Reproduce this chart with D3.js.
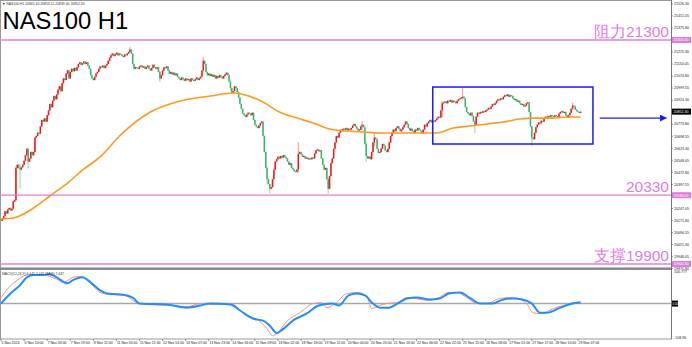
<!DOCTYPE html>
<html>
<head>
<meta charset="utf-8">
<script src="https://cdn.jsdelivr.net/npm/d3@7"></script>
<style>
body { margin: 0; background: #fff; }
svg { display: block; font-family: "Liberation Sans", Arial, sans-serif; }
</style>
</head>
<body>
<svg id="chart" width="692" height="347"></svg>
<script>
// NAS100 H1, 5 Nov - 29 Nov 2024 (closes)
const firstOpen = 20180;
const closes = [
  20170, 20185, 20200, 20230, 20215, 20240, 20250, 20235, 20245, 20290, 20300, 20500,
  20520, 20500, 20490, 20505, 20520, 20545, 20580,
  20620, 20540, 20560, 20600, 20580,
  20600, 20690, 20700, 20720, 20715, 20760, 20800, 20790, 20810, 20790,
  20830, 20860, 20900, 20880, 20920, 20950, 20930, 20960, 20990, 21010, 20980, 21030, 21060, 21050, 21090, 21110,
  21060, 21100, 21120, 21105, 21125, 21110, 21130,
  21150, 21160, 21145, 21155, 21165, 21150, 21160, 21140, 21120,
  21080, 21060, 21050, 21070, 21090, 21100,
  21120, 21135, 21130, 21140, 21125, 21140, 21150,
  21170, 21190, 21205, 21215, 21200, 21210, 21220, 21205, 21215, 21210,
  21200, 21195, 21210, 21205, 21215,
  21225, 21240, 21215,
  21150, 21120, 21130, 21125,
  21120, 21135, 21140, 21128, 21135, 21120, 21130,
  21140, 21120, 21110, 21125, 21145, 21130, 21120,
  21130, 21100, 21060, 21080, 21110, 21130, 21125, 21135,
  21110, 21090, 21100, 21085, 21095, 21080, 21090, 21070,
  21060, 21050, 21065, 21055, 21045, 21060, 21050, 21055, 21040, 21060, 21050, 21045, 21055, 21065, 21050, 21060, 21070,
  21110, 21170, 21150, 21100, 21080,
  21090, 21075, 21085, 21070, 21080, 21060, 21075, 21065, 21080, 21070, 21060, 21075, 21085, 21095,
  21080, 21040, 21000, 20970, 20980, 21010, 21000, 20975,
  20940, 20900, 20870, 20840, 20830, 20820,
  20835, 20845, 20840, 20830, 20845,
  20800, 20770, 20760, 20750, 20765,
  20780, 20790,
  20700, 20600, 20500, 20430,
  20400, 20370, 20380,
  20430, 20490, 20540,
  20555, 20570, 20560, 20575, 20565, 20580, 20570, 20560,
  20540, 20520, 20530,
  20500, 20490, 20480, 20475, 20490,
  20590, 20600,
  20585, 20570, 20575, 20560, 20565, 20555, 20560,
  20555, 20565, 20560,
  20590, 20610, 20615, 20605, 20610,
  20560, 20520, 20490, 20500,
  20430, 20370,
  20450, 20530,
  20560, 20620, 20660, 20700, 20690,
  20720, 20740, 20730, 20745,
  20740, 20750, 20735, 20745, 20740, 20750,
  20765, 20775, 20760,
  20745, 20735, 20740,
  20760, 20770, 20755,
  20650, 20575,
  20560, 20570, 20555,
  20600, 20660, 20690, 20680,
  20620, 20595,
  20600, 20620, 20650, 20640, 20610, 20600, 20620, 20660, 20700, 20720, 20740, 20730, 20750, 20760, 20745,
  20730, 20740, 20755, 20770, 20790, 20775, 20750, 20735, 20745, 20730, 20720, 20740, 20735, 20750, 20740,
  20730, 20715, 20740,
  20770, 20760,
  20780, 20790, 20800, 20785, 20795, 20790, 20800,
  20810, 20820, 20815,
  20860, 20905,
  20910, 20915, 20905, 20920, 20915, 20925, 20910, 20920, 20915, 20905, 20920, 20930,
  20935, 20940, 20945, 20935,
  20880, 20850,
  20840, 20830, 20845, 20825,
  20790, 20770,
  20820, 20845, 20840, 20850,
  20845, 20855, 20850, 20860,
  20865, 20875, 20870,
  20885, 20900, 20895, 20905,
  20920, 20930, 20925, 20935, 20930,
  20945, 20955, 20950, 20960, 20945, 20955, 20950,
  20935, 20925, 20930, 20915, 20920,
  20905, 20895, 20900, 20885, 20890,
  20905, 20910,
  20850, 20760, 20690, 20680,
  20720, 20755,
  20770, 20785, 20780, 20795, 20790,
  20810, 20820, 20815, 20825, 20820, 20830,
  20825, 20820, 20830, 20825, 20820,
  20840, 20850, 20855, 20845, 20850,
  20830, 20815,
  20830, 20845,
  20870, 20890, 20885,
  20865, 20855,
  20850, 20845, 20852
];
// notable wicks: [bar, high, low]
const wicks = [
  [11, 20510, 20290], [14, 20525, 20375], [20, 20625, 20500], [95, 21252, 21225],
  [117, 21105, 21040], [149, 21190, 21105], [169, 21045, 20985], [196, 20505, 20400],
  [198, 20400, 20345], [201, 20500, 20470], [219, 20660, 20475], [241, 20435, 20345],
  [266, 20790, 20740], [269, 20660, 20540], [275, 20710, 20640], [325, 20915, 20820],
  [340, 21000, 20930], [349, 20795, 20720], [391, 20760, 20640], [421, 20905, 20865]
];
// orange moving average: [bar, value]
const maPoints = [
  [0, 20181], [9, 20187], [24, 20250], [36, 20325], [49, 20406], [60, 20487], [73, 20569],
  [88, 20706], [110, 20850], [132, 20919], [154, 20950], [172, 20969], [180, 20956],
  [193, 20912], [205, 20850], [218, 20812], [230, 20781], [242, 20744], [255, 20731],
  [267, 20725], [279, 20719], [309, 20719], [321, 20719], [333, 20750], [345, 20762],
  [358, 20775], [370, 20787], [382, 20806], [390, 20812], [406, 20812], [419, 20819], [427, 20819]
];
// MACD panel: [bar, value]
const macdBlue = [
  [0, 0], [7, 32], [14, 58], [19, 83], [24, 90], [31, 90], [36, 93], [41, 83], [49, 64],
  [53, 74], [60, 83], [66, 67], [73, 42], [78, 32], [88, 29], [97, 19], [102, 0], [122, -3],
  [137, -13], [147, -6], [154, 0], [169, -3], [176, -22], [186, -48], [193, -54], [198, -70],
  [203, -93], [208, -80], [215, -54], [225, -32], [234, -6], [244, 0], [249, -6], [256, 26],
  [262, 32], [268, 26], [274, 0], [279, -13], [286, -13], [292, 0], [299, 16], [306, 19],
  [316, 13], [323, 16], [330, 32], [338, 35], [345, 19], [353, 0], [362, 0], [370, 13],
  [377, 16], [384, 13], [391, 0], [397, -29], [402, -29], [412, -13], [421, 0], [427, 3]
];
const macdRed = [
  [0, 19], [4, 42], [12, 74], [19, 90], [31, 90], [41, 77], [46, 67], [53, 83], [58, 86],
  [63, 77], [73, 35], [80, 29], [91, 26], [100, 3], [108, -3], [125, -6], [137, -10],
  [147, 0], [158, -3], [169, 0], [181, -38], [189, -51], [196, -80], [200, -102], [203, -96],
  [211, -54], [220, -29], [230, 0], [236, 3], [240, -13], [247, 3], [255, 32], [264, 35],
  [270, 16], [273, -16], [279, -6], [284, 0], [292, 3], [299, 19], [314, 10], [323, 19],
  [329, 35], [336, 35], [343, 19], [351, 0], [358, 0], [367, 16], [377, 19], [387, 0],
  [392, -29], [397, -32], [407, -16], [419, 0], [426, 6]
];
const levels = [21300, 20330, 19900];
const levelNames = ["阻力21300", "20330", "支撑19900"];
const lastPrice = 20852.3;
const boxBars = [318, 436];
const boxPrices = [21006, 20650];
const arrowBars = [441, 490];
const arrowPrice = 20812;
const priceTicks = [
  21526.30, 21451.05, 21375.80, 21300.55, 21225.30, 21150.05, 21074.80, 20999.55, 20924.30,
  20849.05, 20773.80, 20698.55, 20623.30, 20548.05, 20472.80, 20397.55, 20322.30, 20247.05,
  20171.80, 20096.55, 20021.30, 19946.05, 19870.80
];
const macdTicks = [100.777, 0, -108.96];
const timeLabels = [
  "5 Nov 2024", "6 Nov 10:00", "7 Nov 03:00", "7 Nov 19:00", "8 Nov 12:00", "11 Nov 05:00",
  "11 Nov 21:00", "12 Nov 14:00", "13 Nov 07:00", "13 Nov 23:00", "14 Nov 16:00", "15 Nov 09:00",
  "18 Nov 02:00", "18 Nov 18:00", "19 Nov 11:00", "20 Nov 04:00", "20 Nov 20:00", "21 Nov 13:00",
  "22 Nov 06:00", "22 Nov 22:00", "25 Nov 15:00", "26 Nov 08:00", "27 Nov 01:00", "27 Nov 17:00",
  "28 Nov 10:00", "29 Nov 07:00"
];
const barsPerLabel = 17;

class CandleChart {

    constructor(svg_element_id) {
        this.svg = d3.select('#' + svg_element_id);
        this.plotRight = 671;

        this.bars = [];
        let prev = firstOpen;
        closes.forEach((c, i) => {
            this.bars.push({ i: i, o: prev, c: c, h: Math.max(prev, c), l: Math.min(prev, c) });
            prev = c;
        });
        wicks.forEach(w => {
            const b = this.bars[w[0]];
            b.h = Math.max(b.h, w[1]);
            b.l = Math.min(b.l, w[2]);
        });
    }

    draw() {
        const svg = this.svg;
        const right = this.plotRight;
        const violet = "#e07ce0";

        const x = d3.scaleLinear().domain([0, 425]).range([1, 578]);
        const y = d3.scaleLinear().domain([19900, 21300]).range([264, 40]);
        const ym = d3.scaleLinear().domain([-108.96, 100.777]).range([338, 271.7]);

        svg.append("defs").append("clipPath").attr("id", "mainclip")
            .append("rect").attr("x", 0).attr("y", 1).attr("width", right).attr("height", 267);
        svg.select("defs").append("clipPath").attr("id", "macdclip")
            .append("rect").attr("x", 0).attr("y", 270).attr("width", right).attr("height", 69);
        svg.select("defs").append("marker").attr("id", "arrowhead")
            .attr("viewBox", "0 0 10 10").attr("refX", 9).attr("refY", 5)
            .attr("markerWidth", 5).attr("markerHeight", 5).attr("orient", "auto")
            .append("path").attr("d", "M0,0L10,5L0,10z").attr("fill", "#1a1aff");

        // frames
        svg.append("rect").attr("x", 0.5).attr("y", 0.5).attr("width", right).attr("height", 267.5)
            .attr("fill", "none").attr("stroke", "#999");
        svg.append("rect").attr("x", 0.5).attr("y", 269.5).attr("width", right).attr("height", 69.5)
            .attr("fill", "none").attr("stroke", "#999");
        svg.append("line").attr("x1", 0).attr("x2", right).attr("y1", 268.8).attr("y2", 268.8)
            .attr("stroke", "#888").attr("stroke-width", 2);

        const main = svg.append("g").attr("clip-path", "url(#mainclip)");

        // candles
        main.selectAll("line.wick").data(this.bars).enter().append("line")
            .attr("class", "wick")
            .attr("x1", d => x(d.i)).attr("x2", d => x(d.i))
            .attr("y1", d => y(d.h) - 0.5).attr("y2", d => y(d.l) + 0.5)
            .attr("stroke", d => d.c >= d.o ? "#f7a8a8" : "#a9dcbd")
            .attr("stroke-width", 1.3);

        main.selectAll("rect.body").data(this.bars).enter().append("rect")
            .attr("class", "body")
            .attr("x", d => x(d.i) - 0.75)
            .attr("width", 1.5)
            .attr("y", d => y(Math.max(d.o, d.c)))
            .attr("height", d => Math.max(1, Math.abs(y(d.o) - y(d.c))))
            .attr("fill", d => d.c >= d.o ? "#f01818" : "#3cb371");

        // moving average
        const maLine = d3.line().x(d => x(d[0])).y(d => y(d[1])).curve(d3.curveMonotoneX);
        main.append("path").datum(maPoints).attr("d", maLine)
            .attr("fill", "none").attr("stroke", "#ff9a1f").attr("stroke-width", 1.6);

        // support / resistance levels
        svg.selectAll("line.level").data(levels).enter().append("line")
            .attr("class", "level")
            .attr("x1", 0).attr("x2", right)
            .attr("y1", d => y(d)).attr("y2", d => y(d))
            .attr("stroke", violet).attr("stroke-width", 1.3);

        svg.selectAll("text.levelname").data(levels).enter().append("text")
            .attr("class", "levelname")
            .attr("x", right - 2)
            .attr("y", d => y(d) - 3)
            .attr("text-anchor", "end")
            .attr("font-size", 15.5)
            .attr("fill", violet)
            .text((d, k) => levelNames[k]);

        // consolidation box and arrow
        main.append("rect")
            .attr("x", x(boxBars[0])).attr("y", y(boxPrices[0]))
            .attr("width", x(boxBars[1]) - x(boxBars[0]))
            .attr("height", y(boxPrices[1]) - y(boxPrices[0]))
            .attr("fill", "none").attr("stroke", "#1a1aff").attr("stroke-width", 1.5);
        svg.append("line")
            .attr("x1", x(arrowBars[0])).attr("x2", x(arrowBars[1]))
            .attr("y1", y(arrowPrice)).attr("y2", y(arrowPrice))
            .attr("stroke", "#1a1aff").attr("stroke-width", 1.4)
            .attr("marker-end", "url(#arrowhead)");

        // titles
        svg.append("text").attr("x", 2).attr("y", 4.5).attr("font-size", 3.4).attr("fill", "#333")
            .text("▼ NAS100,H1  20841.40 20853.15 20839.40 20852.30");
        svg.append("text").attr("x", 2.5).attr("y", 28.5).attr("font-size", 23.8).attr("fill", "#000")
            .text("NAS100 H1");

        // price axis
        svg.append("line").attr("x1", right + 0.5).attr("x2", right + 0.5).attr("y1", 0).attr("y2", 339)
            .attr("stroke", "#777");
        const marked = levels.concat([lastPrice]);
        const ticks = priceTicks.filter(t => marked.every(m => Math.abs(y(t) - y(m)) > 4.5));
        const ax = svg.append("g").attr("font-size", 3.6).attr("fill", "#222");
        ticks.forEach(t => {
            ax.append("line").attr("x1", right).attr("x2", right + 2).attr("y1", y(t)).attr("y2", y(t))
                .attr("stroke", "#555").attr("stroke-width", 0.6);
            ax.append("text").attr("x", right + 3).attr("y", y(t) + 1.3).text(t.toFixed(2));
        });
        levels.forEach(l => {
            ax.append("rect").attr("x", right + 1).attr("y", y(l) - 3).attr("width", 19).attr("height", 6)
                .attr("fill", violet);
            ax.append("text").attr("x", right + 2.5).attr("y", y(l) + 1.3).attr("fill", "#fff")
                .text(l.toFixed(2));
        });
        ax.append("rect").attr("x", right + 1).attr("y", y(lastPrice) - 3).attr("width", 19).attr("height", 6)
            .attr("fill", "#000");
        ax.append("text").attr("x", right + 2.5).attr("y", y(lastPrice) + 1.3).attr("fill", "#fff")
            .text(lastPrice.toFixed(2));

        // MACD panel
        const macd = svg.append("g").attr("clip-path", "url(#macdclip)");
        macd.append("line").attr("x1", 0).attr("x2", right).attr("y1", ym(0)).attr("y2", ym(0))
            .attr("stroke", "#a8a8a8").attr("stroke-width", 1.5);
        const mLine = d3.line().x(d => x(d[0])).y(d => ym(d[1])).curve(d3.curveMonotoneX);
        macd.append("path").datum(macdRed).attr("d", mLine)
            .attr("fill", "none").attr("stroke", "#ff8a8a").attr("stroke-width", 1);
        macd.append("path").datum(macdBlue).attr("d", mLine)
            .attr("fill", "none").attr("stroke", "#1e8fff").attr("stroke-width", 2);
        svg.append("text").attr("x", 2).attr("y", 274.5).attr("font-size", 3.4).attr("fill", "#333")
            .text("MACD(12,26,9) 6.445 5.445   MA(9) 7.447");

        macdTicks.forEach(t => {
            if (t === 0) {
                ax.append("rect").attr("x", right + 1).attr("y", ym(t) - 3).attr("width", 6).attr("height", 6)
                    .attr("fill", "#000");
                ax.append("text").attr("x", right + 1.5).attr("y", ym(t) + 1.3).attr("fill", "#fff")
                    .attr("font-size", 3).text("0.00");
            } else {
                ax.append("text").attr("x", right + 3).attr("y", ym(t) + 1.3).text(t.toFixed(3).replace(/0$/, ""));
            }
        });

        // time axis
        const tg = svg.append("g").attr("font-size", 3.5).attr("fill", "#222");
        timeLabels.forEach((lab, k) => {
            const tx = x(k * barsPerLabel);
            tg.append("line").attr("x1", tx).attr("x2", tx).attr("y1", 339).attr("y2", 341)
                .attr("stroke", "#555").attr("stroke-width", 0.6);
            tg.append("text").attr("x", tx + 0.5).attr("y", 343.5).text(lab);
        });
    }
}

function whenDocumentLoaded(action) {
    if (document.readyState === "loading") {
        document.addEventListener("DOMContentLoaded", action);
    } else {
        action();
    }
}

whenDocumentLoaded(() => {
    const chart = new CandleChart('chart');
    chart.draw();
});
</script>
</body>
</html>
